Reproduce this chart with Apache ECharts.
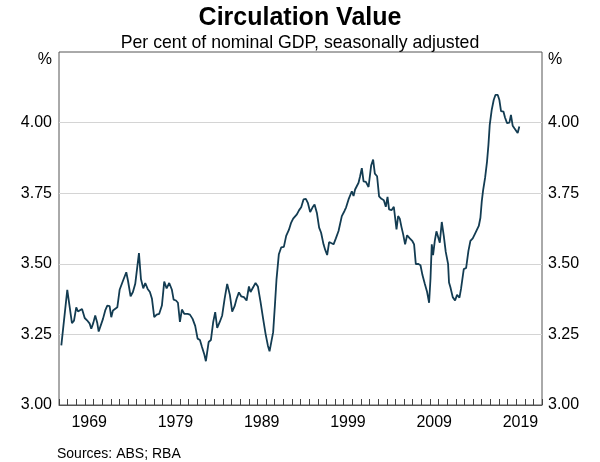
<!DOCTYPE html>
<html>
<head>
<meta charset="utf-8">
<script src="https://cdn.jsdelivr.net/npm/echarts@6/dist/echarts.min.js"></script>
<style>html,body{margin:0;padding:0;background:#fff}#c{width:600px;height:462px}</style>
</head>
<body>
<div id="c"></div>
<script>
// Decimal year of each observation
var years = [
1966.27,1966.96,1967.50,1967.74,1968.00,1968.20,1968.43,1968.67,1968.98,1969.25,
1969.56,1969.74,1969.97,1970.20,1970.44,1970.60,1970.83,1971.10,1971.36,1971.60,
1971.87,1972.06,1972.26,1972.45,1972.76,1973.03,1973.22,1973.42,1973.80,1974.00,
1974.30,1974.57,1974.84,1975.07,1975.27,1975.50,1975.77,1976.00,1976.28,1976.54,
1976.78,1977.04,1977.32,1977.62,1977.93,1978.20,1978.48,1978.78,1979.09,1979.29,
1979.56,1979.79,1980.02,1980.25,1980.52,1980.91,1981.18,1981.49,1981.79,1982.07,
1982.34,1982.57,1982.84,1983.03,1983.35,1983.61,1983.88,1984.11,1984.34,1984.65,
1984.92,1985.20,1985.50,1985.81,1986.08,1986.36,1986.59,1986.86,1987.12,1987.44,
1987.75,1988.02,1988.21,1988.51,1988.79,1989.06,1989.37,1989.67,1989.95,1990.22,
1990.41,1990.60,1990.83,1991.03,1991.22,1991.49,1991.76,1992.07,1992.34,1992.65,
1992.92,1993.15,1993.38,1993.58,1993.84,1994.08,1994.35,1994.62,1994.85,1995.12,
1995.40,1995.63,1995.90,1996.16,1996.39,1996.67,1996.86,1997.09,1997.32,1997.55,
1997.83,1998.10,1998.41,1998.59,1998.79,1999.10,1999.29,1999.57,1999.75,1999.95,
2000.15,2000.33,2000.53,2000.73,2000.91,2001.11,2001.31,2001.58,2001.89,2002.19,
2002.42,2002.62,2002.88,2003.11,2003.39,2003.66,2003.89,2004.09,2004.27,2004.55,
2004.82,2005.13,2005.32,2005.51,2005.71,2005.90,2006.13,2006.36,2006.67,2006.98,
2007.17,2007.37,2007.63,2007.91,2008.14,2008.41,2008.68,2008.91,2009.07,2009.22,
2009.37,2009.57,2009.76,2009.95,2010.15,2010.38,2010.61,2010.84,2011.11,2011.22,
2011.38,2011.65,2011.92,2012.15,2012.43,2012.61,2012.93,2013.20,2013.47,2013.70,
2013.97,2014.24,2014.47,2014.67,2014.86,2015.02,2015.17,2015.40,2015.63,2015.79,
2015.94,2016.17,2016.40,2016.60,2016.87,2017.06,2017.25,2017.53,2017.71,2017.95,
2018.22,2018.40,2018.60,2018.80,2018.99,2019.18,2019.37
];
// Circulation value, per cent of nominal GDP
var values = [
3.211,3.408,3.290,3.299,3.346,3.331,3.338,3.340,3.308,3.300,
3.288,3.270,3.290,3.317,3.290,3.260,3.258,3.305,3.335,3.352,
3.350,3.311,3.335,3.328,3.346,3.408,3.412,3.440,3.470,3.440,
3.385,3.400,3.429,3.432,3.538,3.446,3.413,3.432,3.411,3.400,
3.376,3.311,3.320,3.323,3.352,3.437,3.413,3.432,3.408,3.373,
3.370,3.362,3.294,3.338,3.323,3.323,3.320,3.305,3.280,3.235,
3.230,3.206,3.180,3.155,3.223,3.230,3.294,3.329,3.273,3.295,
3.317,3.376,3.429,3.390,3.331,3.350,3.376,3.399,3.385,3.382,
3.370,3.420,3.400,3.417,3.432,3.420,3.364,3.305,3.252,3.210,
3.190,3.190,3.258,3.352,3.446,3.534,3.558,3.560,3.599,3.620,
3.646,3.660,3.655,3.675,3.690,3.700,3.728,3.730,3.716,3.683,
3.700,3.710,3.680,3.628,3.610,3.569,3.550,3.531,3.577,3.575,
3.569,3.590,3.616,3.620,3.669,3.687,3.700,3.728,3.725,3.757,
3.740,3.763,3.760,3.787,3.810,3.839,3.792,3.790,3.772,3.848,
3.869,3.819,3.810,3.739,3.730,3.725,3.702,3.737,3.693,3.690,
3.702,3.622,3.669,3.660,3.630,3.605,3.569,3.601,3.590,3.580,
3.569,3.499,3.500,3.495,3.460,3.429,3.400,3.362,3.446,3.569,
3.531,3.581,3.615,3.620,3.575,3.648,3.600,3.542,3.500,3.434,
3.417,3.382,3.370,3.390,3.380,3.411,3.481,3.485,3.546,3.581,
3.590,3.607,3.612,3.634,3.663,3.722,3.760,3.804,3.863,3.921,
3.992,4.045,4.080,4.098,4.098,4.080,4.041,4.039,4.018,3.998,
4.000,4.027,3.989,3.980,3.975,3.963,3.986
];
var yTicks = [3.00, 3.25, 3.50, 3.75, 4.00, 4.25];
var xLabelYears = [1969, 1979, 1989, 1999, 2009, 2019];

var FONT = 'Liberation Sans, Arial, sans-serif';
var data = years.map(function (y, i) { return [y, values[i]]; });

function yFmt(v) {
  if (Math.abs(v - 4.25) < 1e-6) return '{p|%}';
  return v.toFixed(2);
}

var chart = echarts.init(document.getElementById('c'), null, {renderer: 'canvas'});
chart.setOption({
  animation: false,
  backgroundColor: '#fff',
  title: [
    {text: 'Circulation Value', left: 'center', top: 1,
     textStyle: {fontFamily: FONT, fontSize: 25, fontWeight: 'bold', color: '#000'}},
    {text: 'Per cent of nominal GDP, seasonally adjusted', left: 'center', top: 29,
     textStyle: {fontFamily: FONT, fontSize: 17.7, fontWeight: 'normal', color: '#000'}},
    {text: 'Sources: ABS; RBA', left: 52, top: 442,
     textStyle: {fontFamily: FONT, fontSize: 14, fontWeight: 'normal', color: '#000'}}
  ],
  grid: {left: 59, right: 58, top: 52, bottom: 57, show: true,
         borderColor: '#555', borderWidth: 1, backgroundColor: 'transparent'},
  xAxis: {
    type: 'value', min: 1966, max: 2022, interval: 1, position: 'bottom',
    axisLine: {show: true, onZero: false, lineStyle: {color: '#555', width: 1}},
    axisTick: {show: true, inside: true, length: 6, lineStyle: {color: '#444', width: 1}},
    splitLine: {show: false},
    axisLabel: {show: true, margin: 10, fontFamily: FONT, fontSize: 16, color: '#000',
      showMinLabel: true, showMaxLabel: true, padding: [0, 0, 0, 8.6],
      formatter: function (v) {
        return xLabelYears.indexOf(v) >= 0 ? String(v) : '';
      }}
  },
  yAxis: [
    {type: 'value', min: yTicks[0], max: yTicks[yTicks.length - 1], interval: 0.25, position: 'left',
     axisLine: {show: false}, axisTick: {show: false},
     splitLine: {show: true, lineStyle: {width: 1,
       color: ['rgba(0,0,0,0)', '#d4d4d4', '#d4d4d4', '#d4d4d4', '#d4d4d4', 'rgba(0,0,0,0)']}},
     axisLabel: {margin: 7, fontFamily: FONT, fontSize: 16, color: '#000', formatter: yFmt,
       rich: {p: {fontFamily: FONT, fontSize: 16, color: '#000', padding: [15, 0, 0, 0]}}}},
    {type: 'value', min: yTicks[0], max: yTicks[yTicks.length - 1], interval: 0.25, position: 'right',
     axisLine: {show: false}, axisTick: {show: false}, splitLine: {show: false},
     axisLabel: {margin: 6, fontFamily: FONT, fontSize: 16, color: '#000', formatter: yFmt,
       rich: {p: {fontFamily: FONT, fontSize: 16, color: '#000', padding: [15, 0, 0, 0]}}}}
  ],
  series: [{
    type: 'line', xAxisIndex: 0, yAxisIndex: 0, data: data,
    showSymbol: false, symbol: 'none', smooth: false,
    lineStyle: {color: '#133c52', width: 1.8}
  }]
});
</script>
</body>
</html>
